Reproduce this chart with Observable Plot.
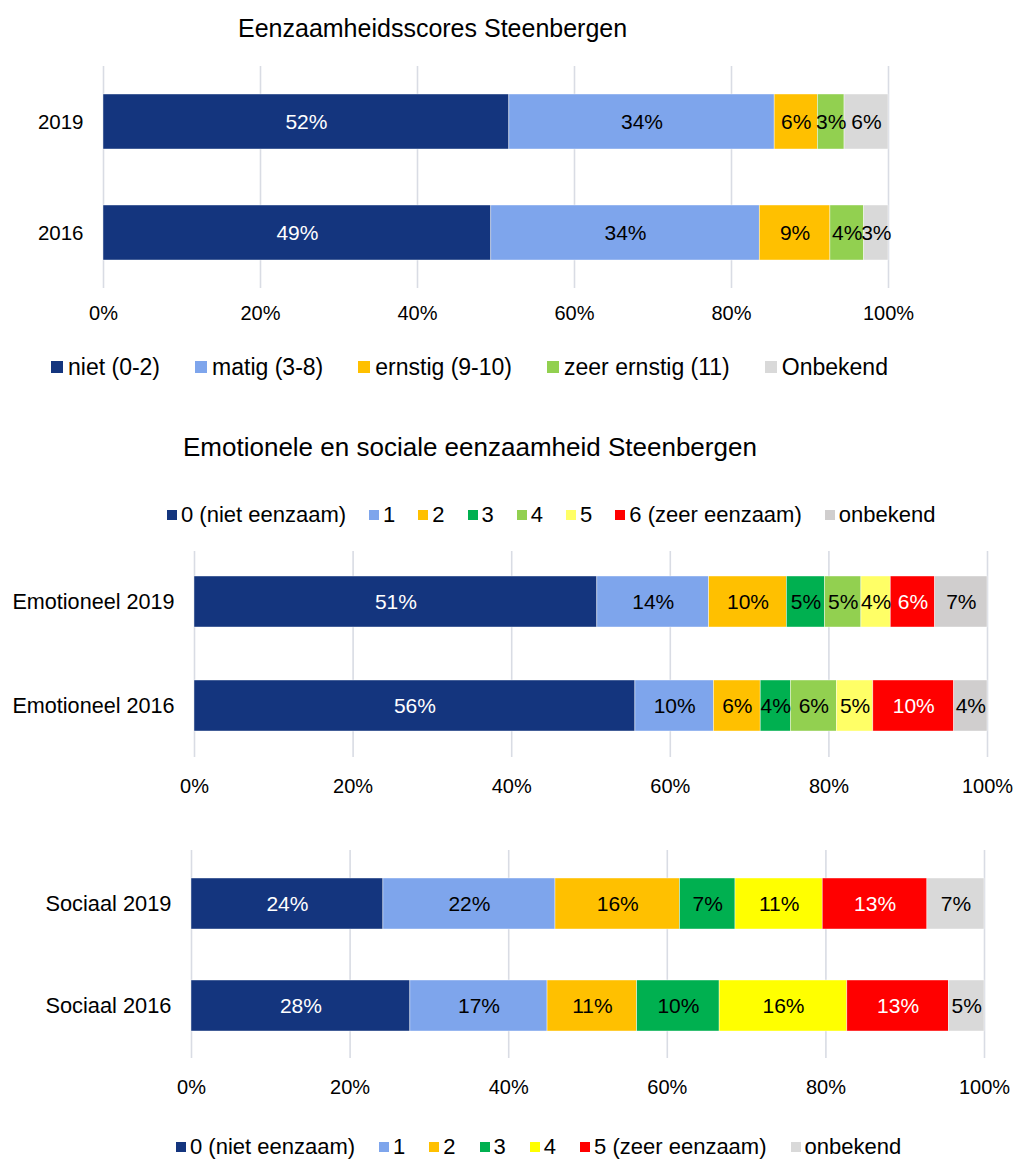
<!DOCTYPE html>
<html>
<head>
<meta charset="utf-8">
<script src="https://cdn.jsdelivr.net/npm/d3@7"></script>
<script src="https://cdn.jsdelivr.net/npm/@observablehq/plot@0.6"></script>
<style>
  html, body { margin: 0; padding: 0; background: #fff; }
  #page { position: relative; width: 1016px; height: 1160px; overflow: hidden; background: #fff;
          font-family: "Liberation Sans", Arial, sans-serif; color: #000; }
  .abs { position: absolute; }
  .title { line-height: 1; white-space: nowrap; color: #000; }
  .lg1-swatches, .lg2-swatches, .lg3-swatches { font-family: "Liberation Sans", Arial, sans-serif !important; margin: 0 !important; color: #000; }
  .lg1-swatches { font-size: 23px !important; line-height: 23px; }
  .lg2-swatches, .lg3-swatches { font-size: 22px !important; line-height: 22px; }
  .lg1-swatches-wrap, .lg2-swatches-wrap, .lg3-swatches-wrap { min-height: 0 !important; flex-wrap: nowrap !important; }
  .lg1-swatch { margin-right: 35px !important; }
  .lg1-swatch > svg { margin-right: 5px !important; }
  .lg2-swatch { margin-right: 23px !important; }
  .lg3-swatch { margin-right: 24px !important; }
  .lg2-swatch > svg, .lg3-swatch > svg { margin-right: 4px !important; }
</style>
</head>
<body>
<div id="page"></div>
<script>
// ---------- data ----------
const xTicks = [0, 20, 40, 60, 80, 100];

// Chart 1: Eenzaamheidsscores Steenbergen
const c1Title = "Eenzaamheidsscores Steenbergen";
const c1Cats = ["2019", "2016"];
const c1Series = ["niet (0-2)", "matig (3-8)", "ernstig (9-10)", "zeer ernstig (11)", "Onbekend"];
const c1Colors = ["#14357E", "#7EA5EC", "#FFC000", "#92D050", "#D9D9D9"];
const c1Values2019 = [51.7, 33.8, 5.5, 3.4, 5.6];
const c1Values2016 = [49.4, 34.2, 9.0, 4.3, 3.1];
const c1White = ["niet (0-2)"];

// Chart 2: Emotionele eenzaamheid
const c2Title = "Emotionele en sociale eenzaamheid Steenbergen";
const c2Cats = ["Emotioneel 2019", "Emotioneel 2016"];
const c2Series = ["0 (niet eenzaam)", "1", "2", "3", "4", "5", "6 (zeer eenzaam)", "onbekend"];
const c2Colors = ["#14357E", "#7EA5EC", "#FFC000", "#00B050", "#92D050", "#FFFF66", "#FF0000", "#D0CECE"];
const c2Values2019 = [50.8, 14.1, 9.8, 4.8, 4.6, 3.7, 5.6, 6.6];
const c2Values2016 = [55.6, 9.9, 5.9, 3.8, 5.8, 4.6, 10.2, 4.2];
const c2White = ["0 (niet eenzaam)", "6 (zeer eenzaam)"];

// Chart 3: Sociale eenzaamheid
const c3Cats = ["Sociaal 2019", "Sociaal 2016"];
const c3Series = ["0 (niet eenzaam)", "1", "2", "3", "4", "5 (zeer eenzaam)", "onbekend"];
const c3Colors = ["#14357E", "#7EA5EC", "#FFC000", "#00B050", "#FFFF00", "#FF0000", "#D9D9D9"];
const c3Values2019 = [24.2, 21.7, 15.7, 7.0, 11.0, 13.2, 7.2];
const c3Values2016 = [27.6, 17.3, 11.3, 10.4, 16.1, 12.8, 4.5];
const c3White = ["0 (niet eenzaam)", "5 (zeer eenzaam)"];

// ---------- helpers ----------
const FONT = '"Liberation Sans", Arial, sans-serif';
const page = document.getElementById("page");

function rowsOf(cats, series, valueLists) {
  const rows = [];
  cats.forEach((cat, ci) => {
    series.forEach((s, si) => rows.push({cat, series: s, value: valueLists[ci][si]}));
  });
  return rows;
}

function place(el, left, top) {
  const wrap = document.createElement("div");
  wrap.className = "abs";
  wrap.style.left = left + "px";
  wrap.style.top = top + "px";
  wrap.appendChild(el);
  page.appendChild(wrap);
  return wrap;
}

function addTitle(text, left, top, size) {
  const d = document.createElement("div");
  d.className = "abs title";
  d.style.left = left + "px";
  d.style.top = top + "px";
  d.style.fontSize = size + "px";
  d.textContent = text;
  page.appendChild(d);
}

function chart(o) {
  const label = d => Math.round(d.value) + "%";
  return Plot.plot({
    width: 1016,
    height: o.height,
    marginLeft: o.marginLeft,
    marginRight: o.marginRight,
    marginTop: o.marginTop,
    marginBottom: o.marginBottom,
    style: {fontFamily: FONT, fontSize: "20px", color: "#000", background: "transparent", overflow: "visible"},
    x: {domain: [0, 100]},
    y: {domain: o.cats, paddingInner: o.paddingInner, paddingOuter: o.paddingOuter, align: 0.5},
    color: {domain: o.series, range: o.colors},
    marks: [
      Plot.gridX(xTicks, {stroke: "#D9DCE4", strokeOpacity: 1, strokeWidth: 1.6}),
      Plot.barX(o.rows, Plot.stackX({x: "value", y: "cat", fill: "series", stroke: "#ffffff", strokeWidth: 0.6, strokeOpacity: 0.7})),
      Plot.text(o.rows, Plot.stackX({x: "value", y: "cat", z: "series",
        text: d => o.white.includes(d.series) ? "" : label(d), fill: "#000", fontSize: 21})),
      Plot.text(o.rows, Plot.stackX({x: "value", y: "cat", z: "series",
        text: d => o.white.includes(d.series) ? label(d) : "", fill: "#fff", fontSize: 21})),
      Plot.axisX(xTicks, {tickSize: 0, tickPadding: o.xTickPadding, tickFormat: d => d + "%", label: null, fontSize: 20, fill: "#000"}),
      Plot.axisY({tickSize: 0, tickPadding: 20, label: null, fontSize: o.yFont, fill: "#000"})
    ]
  });
}

function legend(series, colors, cls, sw) {
  return Plot.legend({
    color: {type: "ordinal", domain: series, range: colors},
    legend: "swatches",
    swatchWidth: sw,
    swatchHeight: sw,
    className: cls
  });
}

// ---------- chart 1 ----------
addTitle(c1Title, 238, 15.5, 25);
place(chart({
  rows: rowsOf(c1Cats, c1Series, [c1Values2019, c1Values2016]),
  cats: c1Cats, series: c1Series, colors: c1Colors, white: c1White,
  height: 278, marginTop: 11, marginBottom: 45, marginLeft: 103, marginRight: 128,
  paddingInner: 0.505, paddingOuter: 0.2525, xTickPadding: 17, yFont: 20.5
}), 0, 55);
place(legend(c1Series, c1Colors, "lg1", 12), 51, 355.5);

// ---------- chart 2 ----------
addTitle(c2Title, 183, 434, 26);
place(legend(c2Series, c2Colors, "lg2", 10), 167, 504);
place(chart({
  rows: rowsOf(c2Cats, c2Series, [c2Values2019, c2Values2016]),
  cats: c2Cats, series: c2Series, colors: c2Colors, white: c2White,
  height: 262, marginTop: 11, marginBottom: 45, marginLeft: 194, marginRight: 29,
  paddingInner: 0.505, paddingOuter: 0.2335, xTickPadding: 21, yFont: 21.6
}), 0, 540);

// ---------- chart 3 ----------
place(chart({
  rows: rowsOf(c3Cats, c3Series, [c3Values2019, c3Values2016]),
  cats: c3Cats, series: c3Series, colors: c3Colors, white: c3White,
  height: 264, marginTop: 11, marginBottom: 45, marginLeft: 191, marginRight: 32,
  paddingInner: 0.5, paddingOuter: 0.26, xTickPadding: 21, yFont: 21.8
}), 0, 839);
place(legend(c3Series, c3Colors, "lg3", 10), 176, 1136);
</script>
</body>
</html>
